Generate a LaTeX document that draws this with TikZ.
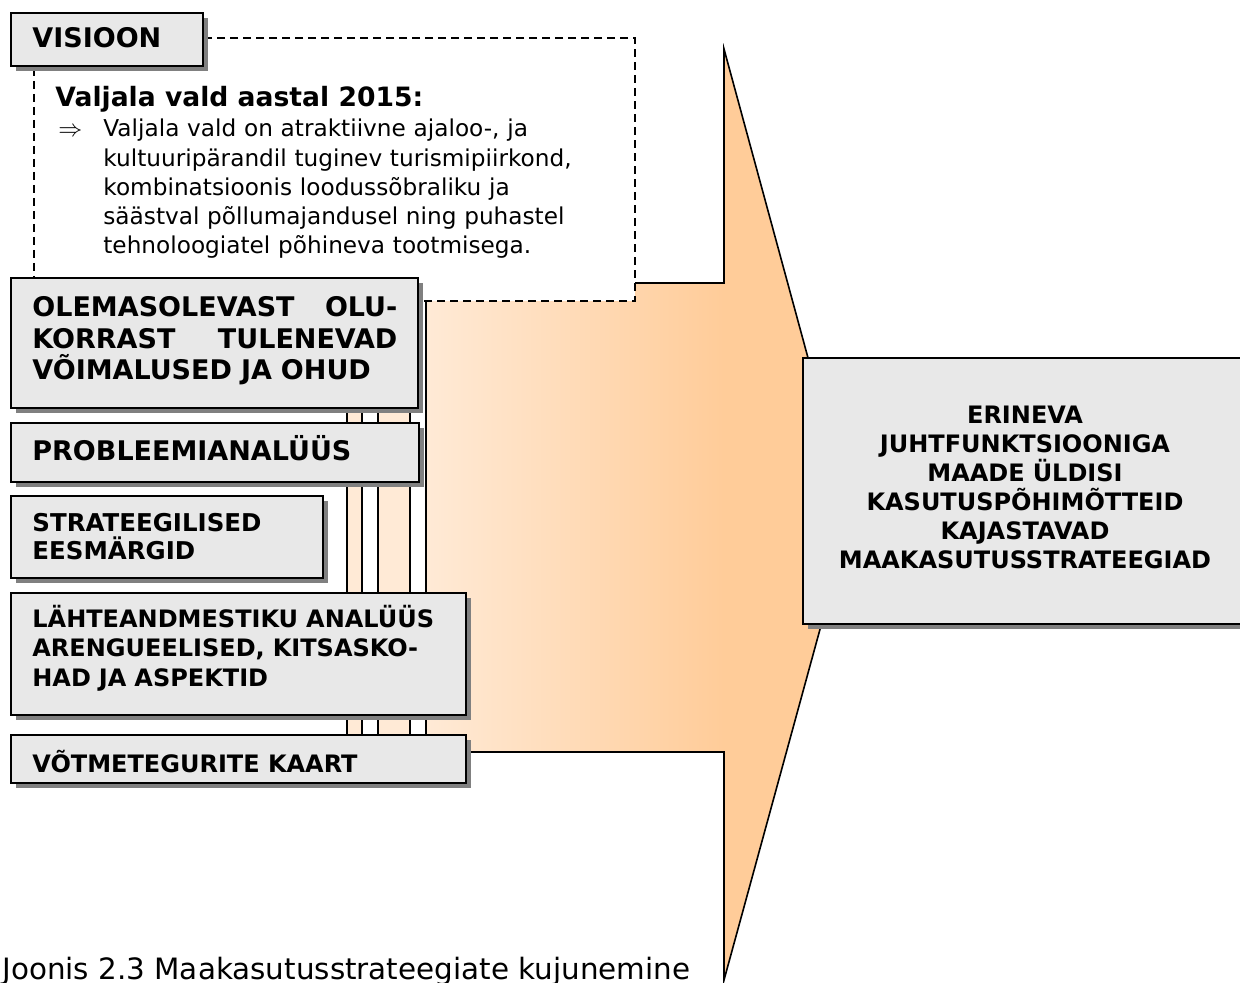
\documentclass[tikz,border=0pt]{standalone}
\usepackage{fontspec}
\setmainfont{DejaVu Sans}
\usetikzlibrary{shadows}
\usetikzlibrary{fit}
\definecolor{boxgray}{RGB}{232,232,232}
\definecolor{shadowgray}{RGB}{128,128,128}
\definecolor{peachL}{RGB}{255,234,214}
\definecolor{peachD}{RGB}{255,204,153}
\pgfdeclarehorizontalshading{peachfade}{100bp}{color(0bp)=(peachL); color(25bp)=(peachL); color(60bp)=(peachD); color(100bp)=(peachD)}

\begin{document}
\begin{tikzpicture}[x=0.5pt, y=-0.5pt,
    gbox/.style={draw, line width=1pt, fill=boxgray, inner sep=0pt,
      drop shadow={opacity=1, fill=shadowgray, shadow xshift=2.5pt, shadow yshift=-2.5pt}},
    dashbox/.style={draw, fill=white, line width=0.75pt, dash pattern=on 4pt off 2.5pt, inner sep=0pt},
    bigtxt/.style={anchor=base west, inner sep=0pt, align=left, font=\bfseries\fontsize{13.5}{15.75}\selectfont},
    smalltxt/.style={anchor=base west, inner sep=0pt, align=left, font=\bfseries\fontsize{12}{14.75}\selectfont},
    bodytxt/.style={anchor=base west, inner sep=0pt, align=left, font=\fontsize{11.6}{14.6}\selectfont},
    arrowline/.style={draw=black, line width=0.8pt, line join=miter}]
   \useasboundingbox (0,0) rectangle (1240,983);
   \clip (0,0) rectangle (1240,983);

   % striped arrow
   \draw [arrowline, fill=peachL] (347,283) rectangle (362,752);
   \draw [arrowline, fill=peachL] (378,283) rectangle (410,752);
   \draw [arrowline, shading=peachfade] (426,283) -- (724,283) -- (724,49) -- (851,516)
      -- (724,980) -- (724,752) -- (426,752) -- cycle;

   % vision area
   \node [dashbox, fit={(34,38) (635,301)}] (visarea) {};

   % boxes
   \node [gbox, fit={(11,13) (203,66)}] (visioon) {};
   \node [gbox, fit={(11,278) (418,408)}] (olukord) {};
   \node [gbox, fit={(11,423) (419,482)}] (probleem) {};
   \node [gbox, fit={(11,496) (323,578)}] (eesmark) {};
   \node [gbox, fit={(11,593) (466,715)}] (lahte) {};
   \node [gbox, fit={(11,735) (466,783)}] (votme) {};
   \node [gbox, fit={(803,358) (1250,624)}] (strateegia) {};

   % texts
   \node [bigtxt] (visioon-t) at (32,48) {VISIOON};
   \node [anchor=base west, inner sep=0pt, font=\bfseries\fontsize{13.3}{16}\selectfont] (vald-t) at (55,107) {Valjala vald aastal 2015:};
   \node [bodytxt] (vald-arrow) at (58,137) {$\Rightarrow$};
   \node [bodytxt, text width=260pt] (vald-body) at (103,137) {Valjala vald on atraktiivne ajaloo-, ja\\
      kultuuripärandil tuginev turismipiirkond,\\
      kombinatsioonis loodussõbraliku ja\\
      säästval põllumajandusel ning puhastel\\
      tehnoloogiatel põhineva tootmisega.};
   \node [bigtxt, text width=182.5pt] (olukord-t) at (32,317) {OLEMASOLEVAST\hfill OLU-\\
      KORRAST\hfill TULENEVAD\\
      VÕIMALUSED JA OHUD};
   \node [bigtxt] (probleem-t) at (32,460) {PROBLEEMIANALÜÜS};
   \node [smalltxt, text width=140pt, font=\bfseries\fontsize{12.25}{14}\selectfont] (eesmark-t) at (32,531) {STRATEEGILISED\\EESMÄRGID};
   \node [smalltxt, text width=215pt] (lahte-t) at (32,627) {LÄHTEANDMESTIKU ANALÜÜS\\
      ARENGUEELISED, KITSASKO-\\
      HAD JA ASPEKTID};
   \node [smalltxt] (votme-t) at (32,772) {VÕTMETEGURITE KAART};
   \node [smalltxt, anchor=base, align=center, text width=215pt, font=\bfseries\fontsize{12}{14.5}\selectfont] (strateegia-t) at (1025,423) {ERINEVA\\
      JUHTFUNKTSIOONIGA\\
      MAADE ÜLDISI\\
      KASUTUSPÕHIMÕTTEID\\
      KAJASTAVAD\\
      MAAKASUTUSSTRATEEGIAD};

   \node [anchor=base west, inner sep=0pt, font=\fontsize{14.7}{17}\selectfont] (joonis) at (2,979) {Joonis 2.3 Maakasutusstrateegiate kujunemine};
\end{tikzpicture}
\end{document}
